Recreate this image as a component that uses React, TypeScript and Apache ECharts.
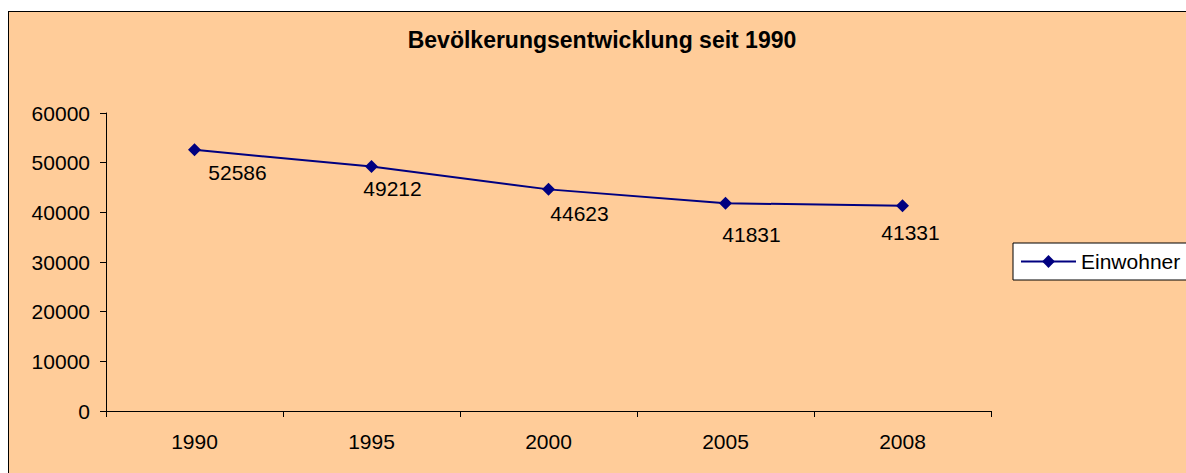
import React, { useEffect, useRef } from "react";
import * as echarts from "echarts";

const titleText = "Bevölkerungsentwicklung seit 1990";
const seriesName = "Einwohner";
const years = ["1990", "1995", "2000", "2005", "2008"];
const population = [52586, 49212, 44623, 41831, 41331];
const yTicks = { min: 0, max: 60000, interval: 10000 };
// label offsets (style only), relative to marker centre
const labelOffsets: [number, number][] = [
  [43, 23],
  [21, 22],
  [31, 24],
  [26, 31],
  [8, 27],
];

const FONT = "'Liberation Sans', Arial, sans-serif";

export default function App() {
  const ref = useRef<HTMLDivElement>(null);
  useEffect(() => {
    if (!ref.current) return;
    const chart = echarts.init(ref.current, undefined, { renderer: "svg" });
    chart.setOption({
      animation: false,
      backgroundColor: "#FFCC99",
      textStyle: { fontFamily: FONT },
      title: {
        text: titleText,
        left: "center",
        top: 16,
        padding: 0,
        textStyle: { fontFamily: FONT, fontSize: 23, fontWeight: "bold", color: "#000" },
      },
      legend: {
        left: 1004,
        top: 231,
        orient: "vertical",
        padding: [8, 7],
        itemWidth: 55,
        itemHeight: 16,
        backgroundColor: "#fff",
        borderColor: "#000",
        borderWidth: 1,
        borderRadius: 0,
        textStyle: { fontFamily: FONT, fontSize: 21, color: "#000" },
        data: [seriesName],
      },
      grid: { left: 97, top: 101, width: 885, height: 298, containLabel: false },
      xAxis: {
        type: "category",
        data: years,
        boundaryGap: true,
        axisLine: { lineStyle: { color: "#000", width: 1 } },
        axisTick: { show: true, length: 6, lineStyle: { color: "#000" } },
        axisLabel: { fontFamily: FONT, fontSize: 21, color: "#000", margin: 20 },
        splitLine: { show: false },
      },
      yAxis: {
        type: "value",
        min: yTicks.min,
        max: yTicks.max,
        interval: yTicks.interval,
        axisLine: { show: true, lineStyle: { color: "#000", width: 1 } },
        axisTick: { show: true, length: 6, lineStyle: { color: "#000" } },
        axisLabel: {
          fontFamily: FONT,
          fontSize: 21,
          color: "#000",
          margin: 16,
          formatter: (v: number) => String(v),
        },
        splitLine: { show: false },
      },
      series: [
        {
          name: seriesName,
          type: "line",
          data: population.map((v, i) => ({
            value: v,
            label: { offset: labelOffsets[i] },
          })),
          symbol: "diamond",
          symbolSize: 13,
          lineStyle: { color: "#000080", width: 2 },
          itemStyle: { color: "#000080" },
          label: {
            show: true,
            position: "inside",
            fontFamily: FONT,
            fontSize: 21,
            color: "#000",
          },
          emphasis: { disabled: true },
        },
      ],
    });
    return () => chart.dispose();
  }, []);
  return (
    <div style={{ position: "fixed", left: 8, top: 11, right: 0, bottom: 0, overflow: "hidden" }}>
      <div
        style={{
          width: 1188,
          height: 480,
          border: "1px solid #000",
          boxSizing: "border-box",
          background: "#FFCC99",
        }}
      >
        <div ref={ref} style={{ width: 1186, height: 478 }} />
      </div>
    </div>
  );
}
